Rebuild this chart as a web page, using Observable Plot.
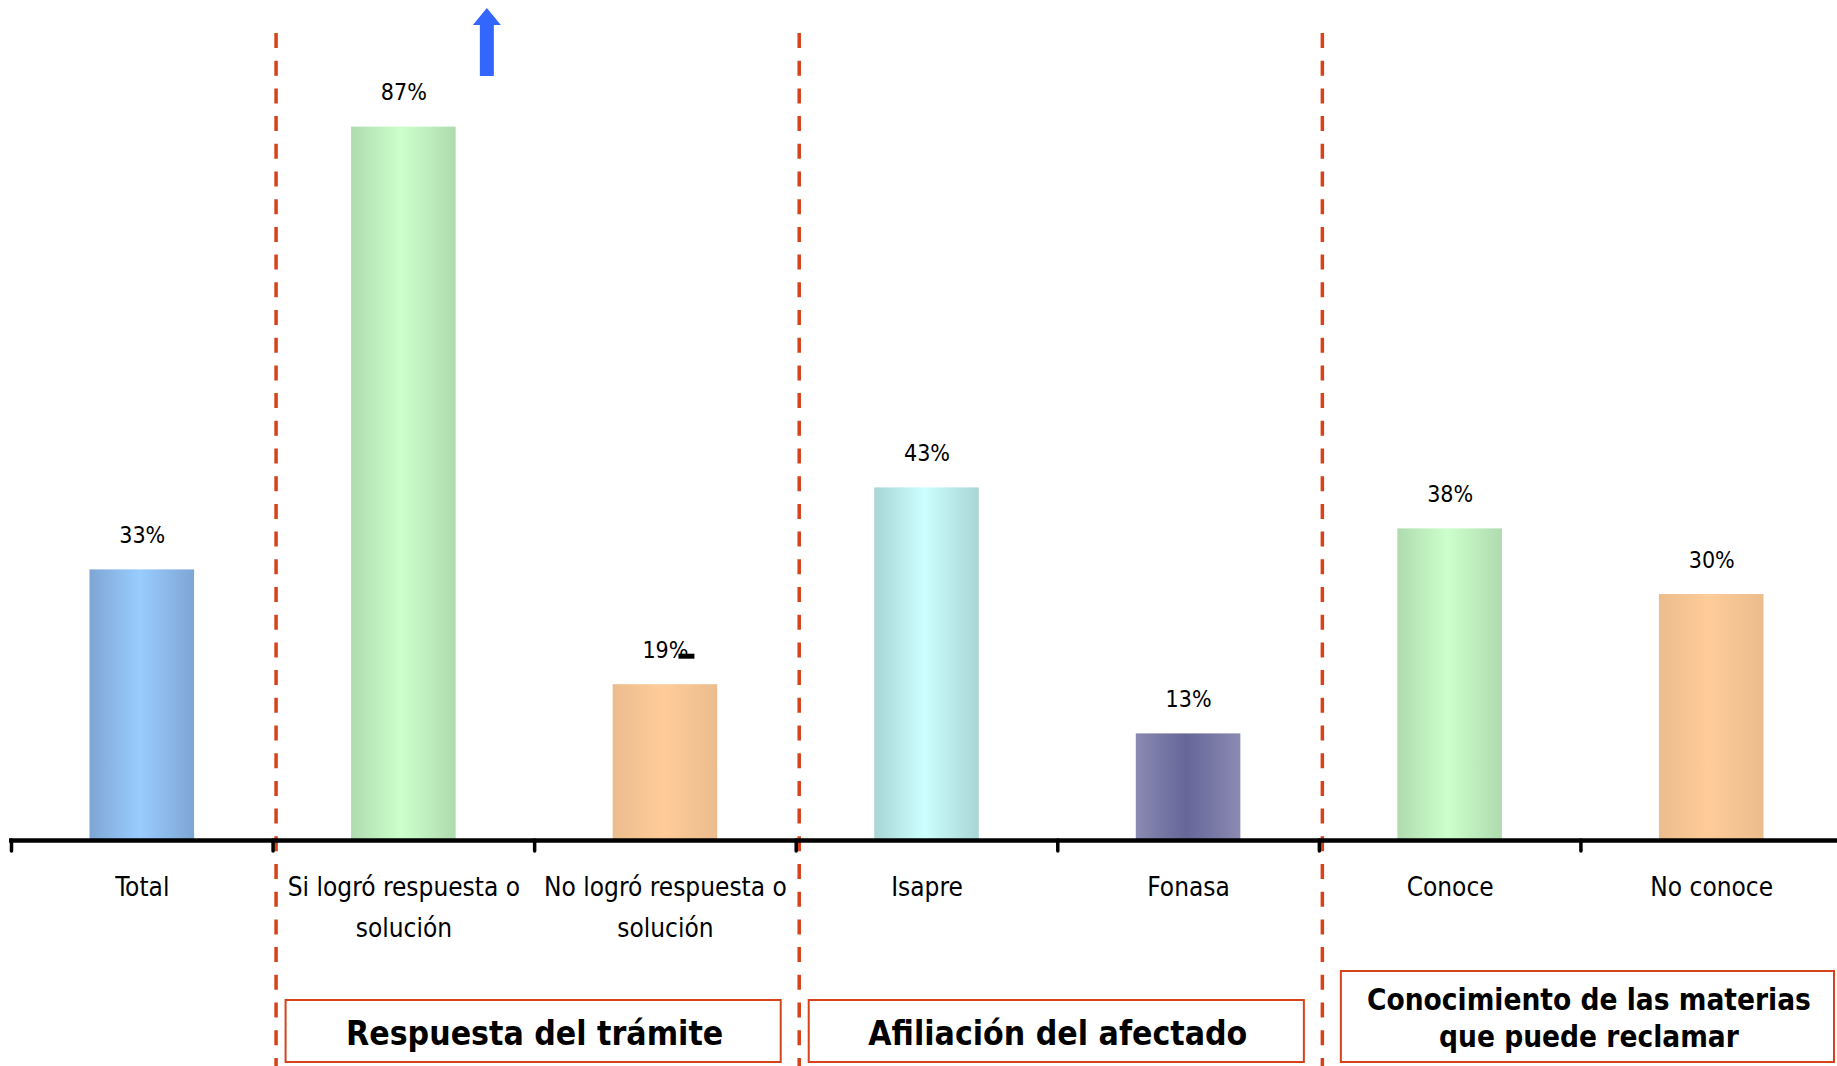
<!DOCTYPE html>
<html>
<head>
<meta charset="utf-8">
<script src="https://cdn.jsdelivr.net/npm/d3@7"></script>
<script src="https://cdn.jsdelivr.net/npm/@observablehq/plot@0.6"></script>
<style>
  html, body { margin: 0; padding: 0; background: #ffffff; }
  #chart svg { display: block; }
</style>
</head>
<body>
<div id="chart"></div>
<script>
// ---------- data ----------
const categories = [
  "Total",
  "Si logró respuesta o\nsolución",
  "No logró respuesta o\nsolución",
  "Isapre",
  "Fonasa",
  "Conoce",
  "No conoce"
];
const values = [33, 87, 19, 43, 13, 38, 30];
const valueLabels = ["33%", "87%", "19%", "43%", "13%", "38%", "30%"];
const significance = ["", "up", "down", "", "", "", ""];

const groupNames = [
  "Respuesta del trámite",
  "Afiliación del afectado",
  "Conocimiento de las materias\nque puede reclamar"
];
const groupStarts = [1, 3, 5];
const groupEnds = [3, 5, 7];

// ---------- styles ----------
// [edge colour, centre colour] of each bar's horizontal gradient
const barPalette = [
  ["#7ea6d3", "#99ccff"],
  ["#afdbaf", "#ccffcc"],
  ["#ebbc8d", "#ffcc99"],
  ["#a9d5d5", "#ccffff"],
  ["#8a8ab2", "#666699"],
  ["#afdbaf", "#ccffcc"],
  ["#ebbc8d", "#ffcc99"]
];
const accent = "#d6421a";
const textFont = "'DejaVu Sans Condensed', 'DejaVu Sans', sans-serif";

// ---------- table ----------
const rows = categories.map((c, i) => ({
  i, category: c, value: values[i], label: valueLabels[i], sig: significance[i]
}));
const groups = groupNames.map((g, i) => ({
  name: g, start: groupStarts[i], end: groupEnds[i], lines: g.split("\n").length
}));
const boundaries = d3.range(categories.length + 1);

const arrowUp = {
  draw(ctx) {
    ctx.moveTo(0, -34); ctx.lineTo(14, -17); ctx.lineTo(7, -17);
    ctx.lineTo(7, 34); ctx.lineTo(-7, 34); ctx.lineTo(-7, -17);
    ctx.lineTo(-14, -17); ctx.closePath();
  }
};
const minusMark = {
  draw(ctx) { ctx.rect(-8, -2.5, 16, 5); }
};

const svg = Plot.plot({
  width: 1837,
  height: 1066,
  marginTop: 20,
  marginBottom: 226,
  marginLeft: 0,
  marginRight: 0,
  style: { background: "#ffffff", fontFamily: textFont },
  x: { domain: [0, categories.length], range: [11, 1842] },
  y: { domain: [0, 100], axis: null },
  marks: [
    // bars
    Plot.rect(rows, {
      x1: "i", x2: d => d.i + 1, y1: 0, y2: "value",
      insetLeft: 78.5, insetRight: 78.5,
      fill: d => `url(#bar-grad-${d.i})`
    }),
    // dashed separators
    Plot.ruleX(groupStarts, {
      x: d => d, dx: 3,
      stroke: accent, strokeWidth: 3.5, strokeDasharray: "15 12.7",
      insetTop: 13, insetBottom: -226
    }),
    // baseline
    Plot.ruleY([0], { stroke: "#000", strokeWidth: 4.5, insetLeft: 9 }),
    // ticks at category boundaries
    Plot.axisX({
      ticks: boundaries, tickFormat: () => "", tickSize: 11,
      stroke: "#000", strokeWidth: 3.5, strokeLinecap: "round", label: null
    }),
    // group boxes (single line)
    Plot.rect(groups.filter(g => g.lines === 1), {
      x1: "start", x2: "end",
      insetLeft: 13, insetRight: 15, insetTop: 980, insetBottom: -222,
      fill: "none", stroke: accent, strokeWidth: 2
    }),
    // group box (two lines)
    Plot.rect(groups.filter(g => g.lines > 1), {
      x1: "start", x2: "end",
      insetLeft: 22, insetRight: 8, insetTop: 951, insetBottom: -222,
      fill: "none", stroke: accent, strokeWidth: 2
    }),
    // group labels
    Plot.text(groups.filter(g => g.lines === 1), {
      x: d => (d.start + d.end) / 2, frameAnchor: "bottom",
      text: "name", lineAnchor: "bottom", dy: 204,
      fontSize: 33.5, fontWeight: "bold", fill: "#000", fontFamily: textFont
    }),
    Plot.text(groups.filter(g => g.lines > 1), {
      x: d => (d.start + d.end) / 2, frameAnchor: "bottom",
      text: "name", lineAnchor: "bottom", dy: 206, dx: 8,
      fontSize: 29.5, lineHeight: 1.254, fontWeight: "bold", fill: "#000", fontFamily: textFont
    }),
    // value labels
    Plot.text(rows, {
      x: d => d.i + 0.5, y: "value", text: "label",
      lineAnchor: "bottom", dy: -27,
      fontSize: 23, fill: "#000", fontFamily: textFont
    }),
    // category labels
    Plot.text(rows, {
      x: d => d.i + 0.5, frameAnchor: "bottom", text: "category",
      lineAnchor: "top", dy: 26, lineHeight: 1.58,
      fontSize: 26, fill: "#000", fontFamily: textFont
    }),
    // significance markers
    Plot.dot(rows.filter(d => d.sig === "up"), {
      x: d => d.i + 0.5, y: "value", dx: 83, dy: -85,
      symbol: arrowUp, fill: "#3366ff", stroke: "none"
    }),
    Plot.dot(rows.filter(d => d.sig === "down"), {
      x: d => d.i + 0.5, y: "value", dx: 21, dy: -28.5,
      symbol: minusMark, fill: "#000", stroke: "none"
    })
  ]
});

// gradients for the bars
const defs = d3.select(svg).insert("defs", ":first-child");
barPalette.forEach(([edge, centre], i) => {
  const g = defs.append("linearGradient")
    .attr("id", `bar-grad-${i}`)
    .attr("x1", "0%").attr("x2", "100%").attr("y1", "0%").attr("y2", "0%");
  g.append("stop").attr("offset", "0%").attr("stop-color", edge);
  g.append("stop").attr("offset", "48%").attr("stop-color", centre);
  g.append("stop").attr("offset", "100%").attr("stop-color", edge);
});

document.getElementById("chart").appendChild(svg);
</script>
</body>
</html>
